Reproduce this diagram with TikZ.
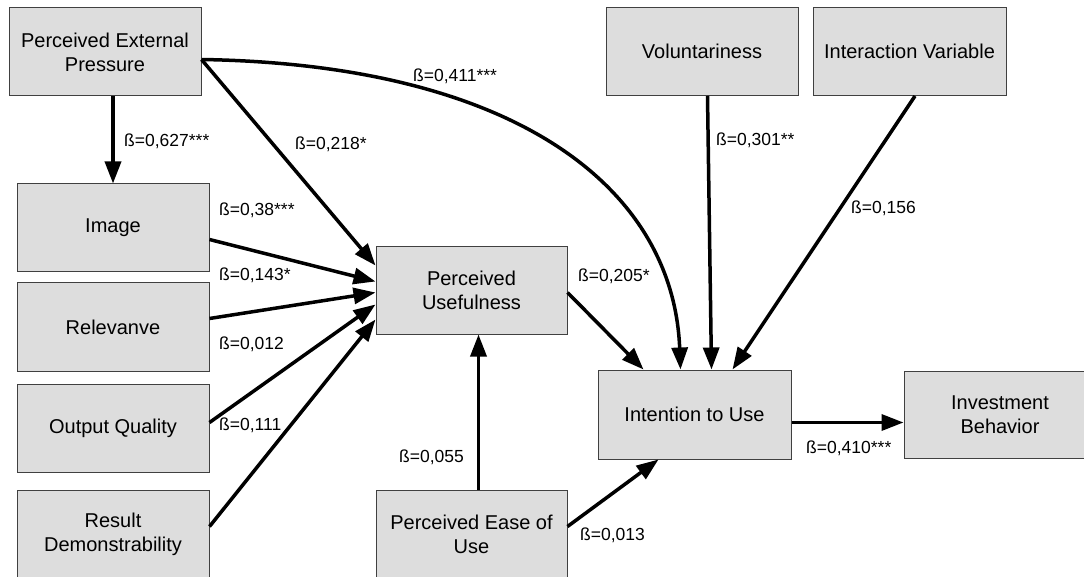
\documentclass[tikz,border=0pt]{standalone}
\usepackage{fontspec}
\setmainfont{Liberation Sans}
\usetikzlibrary{arrows.meta,calc}
\definecolor{boxfill}{RGB}{221,221,221}
\definecolor{boxline}{RGB}{64,64,64}
\begin{document}
\begin{tikzpicture}[x=1pt,y=-1pt,
  box/.style={draw=boxline,fill=boxfill,line width=1pt,minimum width=192pt,minimum height=88pt,inner sep=0pt,align=center,font=\fontsize{20}{24}\selectfont},
  conn/.style={line width=3.5pt,-{Triangle[length=22pt,width=16pt]}},
  lab/.style={anchor=base west,inner sep=0pt,font=\fontsize{17.5}{21}\selectfont}]
\useasboundingbox (0,0) rectangle (1084,577);
% boxes
\node[box] (pep) at (105,52) {Perceived External\\Pressure};
\node[box] (vol) at (702,51.5) {Voluntariness};
\node[box,minimum width=193pt] (iv) at (909.5,51.5) {Interaction Variable};
\node[box] (img) at (113,228) {Image};
\node[box] (rel) at (113,327) {Relevanve};
\node[box] (oq) at (113,428) {Output Quality};
\node[box] (rd) at (113,534) {Result\\Demonstrability};
\node[box,minimum width=191pt,minimum height=87pt] (pu) at (471.5,290.5) {Perceived\\Usefulness};
\node[box,minimum width=191pt] (peou) at (471.5,534) {Perceived Ease of\\Use};
\node[box,minimum width=193pt,minimum height=89pt] (itu) at (694.5,414.5) {Intention to Use};
\node[box,minimum height=87pt] (ib) at (1000,414.5) {Investment\\Behavior};
% connectors
\draw[conn] (img.north |- pep.south) -- (img.north);
\draw[conn] ($(pep.north east)+(0,52)$) -- ($(pu.north west)+(0,19)$);
\draw[conn] ($(pep.north east)+(0,52)$) .. controls +(317,5) and +(-7,-180) .. ($(itu.north west)+(83,0)$);
\draw[conn] ($(img.north east)+(0,56)$) -- ($(pu.north west)+(0,35)$);
\draw[conn] ($(rel.north east)+(0,36)$) -- ($(pu.north west)+(0,46)$);
\draw[conn] ($(oq.north east)+(0,39)$) -- ($(pu.north west)+(0,58)$);
\draw[conn] ($(rd.north east)+(0,37)$) -- ($(pu.north west)+(0,73)$);
\draw[conn] ($(pu.north east)+(0,46)$) -- ($(itu.north west)+(46,0)$);
\draw[conn] ($(vol.south west)+(102,0)$) -- ($(itu.north west)+(114,0)$);
\draw[conn] ($(iv.south west)+(102.5,0)$) -- ($(itu.north west)+(135,0)$);
\draw[conn] ($(peou.north west)+(103,0)$) -- ($(pu.south west)+(103,0)$);
\draw[conn] ($(peou.north east)+(0,37)$) -- ($(itu.south west)+(61,0)$);
\draw[conn] ($(itu.north east)+(0,53)$) -- ($(ib.north west)+(0,52)$);
% labels
\node[lab] (l1) at (124,147) {ß=0,627***};
\node[lab] (l2) at (295,150) {ß=0,218*};
\node[lab] (l3) at (413,82) {ß=0,411***};
\node[lab] (l4) at (219,216) {ß=0,38***};
\node[lab] (l5) at (219,281) {ß=0,143*};
\node[lab] (l6) at (219,349) {ß=0,012};
\node[lab] (l7) at (219,430) {ß=0,111};
\node[lab] (l8) at (578,282) {ß=0,205*};
\node[lab] (l9) at (716,146) {ß=0,301**};
\node[lab] (l10) at (851,214) {ß=0,156};
\node[lab] (l11) at (399,462) {ß=0,055};
\node[lab] (l12) at (580,540) {ß=0,013};
\node[lab] (l13) at (806,453) {ß=0,410***};
\end{tikzpicture}
\end{document}
